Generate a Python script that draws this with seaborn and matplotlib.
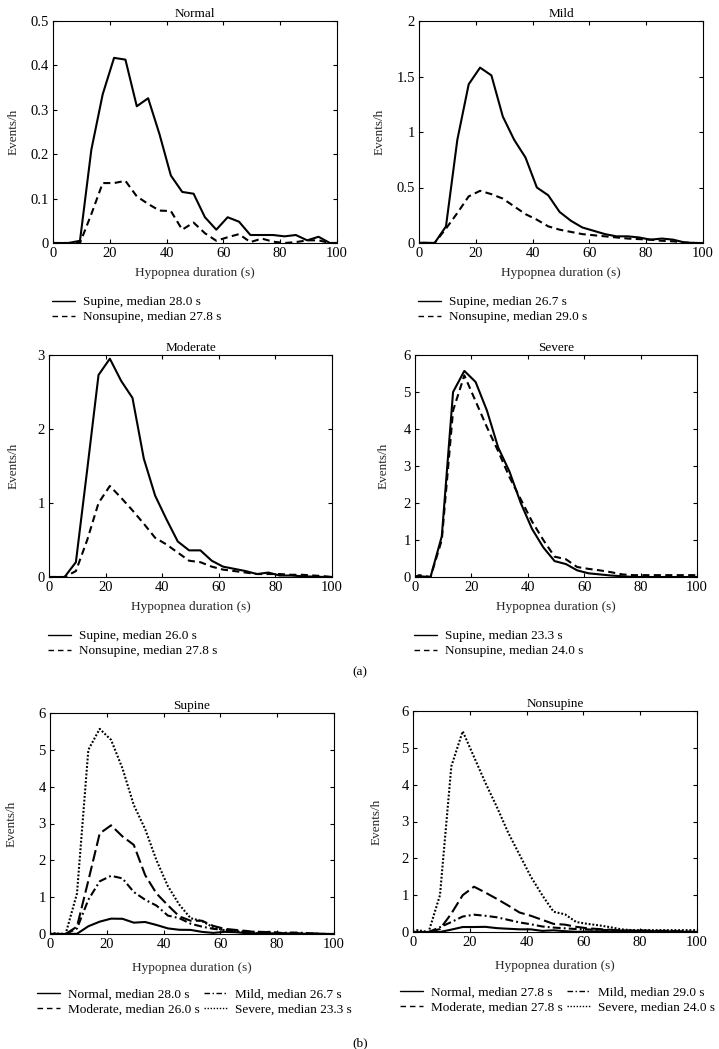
import matplotlib
matplotlib.use("Agg")
import matplotlib.pyplot as plt
import seaborn as sns
from matplotlib.lines import Line2D
from matplotlib.ticker import FuncFormatter, MultipleLocator

# ---------------- data ----------------
duration = [0, 1.5, 5.5, 9.5, 13.5, 17.5, 21.5, 25.5, 29.5, 33.5, 37.5, 41.5, 45.5,
            49.5, 53.5, 57.5, 61.5, 65.5, 69.5, 73.5, 77.5, 81.5, 85.5, 89.5, 93.5,
            97.5, 100]

normal_supine = [0, 0, 0, 0.005, 0.21, 0.335, 0.417, 0.413, 0.308, 0.326, 0.245, 0.152,
                 0.115, 0.111, 0.058, 0.03, 0.058, 0.048, 0.018, 0.018, 0.018, 0.015,
                 0.018, 0.006, 0.014, 0.0, 0]
normal_nonsupine = [0, 0, 0, 0.0, 0.065, 0.135, 0.135, 0.14, 0.105, 0.088, 0.073, 0.072,
                    0.03, 0.046, 0.022, 0.005, 0.013, 0.02, 0.002, 0.01, 0.003, 0.0,
                    0.002, 0.006, 0.006, 0.0, 0]
mild_supine = [0, 0.003, 0, 0.15, 0.93, 1.43, 1.58, 1.51, 1.14, 0.93, 0.77, 0.5, 0.43,
               0.28, 0.2, 0.14, 0.11, 0.08, 0.06, 0.06, 0.05, 0.03, 0.04, 0.03, 0.005,
               0.0, 0]
mild_nonsupine = [0, 0, 0, 0.13, 0.27, 0.42, 0.47, 0.44, 0.40, 0.33, 0.26, 0.21, 0.15,
                  0.12, 0.10, 0.08, 0.07, 0.06, 0.05, 0.04, 0.035, 0.03, 0.02, 0.015,
                  0.005, 0, 0]
moderate_supine = [0, 0, 0, 0.2, 1.45, 2.73, 2.95, 2.65, 2.42, 1.6, 1.1, 0.78, 0.48,
                   0.36, 0.36, 0.22, 0.14, 0.11, 0.08, 0.04, 0.06, 0.02, 0.02, 0.01,
                   0.005, 0, 0]
moderate_nonsupine = [0, 0, 0, 0.08, 0.5, 1.0, 1.23, 1.07, 0.9, 0.72, 0.53, 0.44, 0.33,
                      0.22, 0.2, 0.14, 0.1, 0.08, 0.06, 0.04, 0.04, 0.04, 0.03, 0.03,
                      0.02, 0.01, 0]
severe_supine = [0, 0.02, 0, 1.1, 5.0, 5.57, 5.27, 4.5, 3.5, 2.85, 2.0, 1.3, 0.8, 0.43,
                 0.35, 0.18, 0.1, 0.07, 0.04, 0.02, 0.0, 0, 0, 0, 0, 0, 0]
severe_nonsupine = [0, 0.05, 0, 1.0, 4.5, 5.45, 4.75, 4.05, 3.4, 2.7, 2.1, 1.5, 1.0, 0.55,
                    0.48, 0.27, 0.22, 0.18, 0.13, 0.07, 0.05, 0.05, 0.05, 0.05, 0.05,
                    0.05, 0.05]

groups = ["Normal", "Mild", "Moderate", "Severe"]
supine_medians = ["28.0", "26.7", "26.0", "23.3"]
nonsupine_medians = ["27.8", "29.0", "27.8", "24.0"]
y_max = [0.5, 2, 3, 6]
y_step = [0.1, 0.5, 1, 1]

supine = [normal_supine, mild_supine, moderate_supine, severe_supine]
nonsupine = [normal_nonsupine, mild_nonsupine, moderate_nonsupine, severe_nonsupine]

# ---------------- style ----------------
sns.set_style("ticks")
plt.rcParams["font.family"] = ["Liberation Serif", "DejaVu Serif"]
plt.rcParams["font.size"] = 9.5
plt.rcParams["axes.linewidth"] = 0.8
plt.rcParams["axes.edgecolor"] = "black"
plt.rcParams["text.color"] = "black"
plt.rcParams["xtick.color"] = "black"
plt.rcParams["ytick.color"] = "black"

FS = 9.5
TICK_FS = 10.5
LW = 1.5
ST_SOLID = "-"
ST_DASH = (0, (3.4, 2.1))
ST_LONG = (0, (5.6, 2.1))
ST_DASHDOT = (0, (3.8, 1.5, 0.9, 1.5))
ST_DOT = (0, (0.9, 0.9))
sev_styles = [ST_SOLID, ST_DASHDOT, ST_LONG, ST_DOT]

W, H = 719, 1049
fig = plt.figure(figsize=(W / 100, H / 100), dpi=100)


def add_ax(l, t, r, b):
    return fig.add_axes([l / W, 1 - b / H, (r - l) / W, (b - t) / H])


def style_ax(ax, title, ymax, ystep, ylab_off, xlab_off):
    w = ax.get_position().width * W
    h = ax.get_position().height * H
    ax.set_xlim(0, 100)
    ax.set_ylim(0, ymax)
    ax.xaxis.set_major_locator(MultipleLocator(20))
    ax.yaxis.set_major_locator(MultipleLocator(ystep))
    ax.yaxis.set_major_formatter(FuncFormatter(lambda v, p: f"{v:g}"))
    ax.tick_params(direction="in", top=True, right=True, length=3, width=0.8,
                   labelsize=TICK_FS, pad=3)
    ax.set_title(title, fontsize=FS, pad=3)
    ax.set_xlabel("Hypopnea duration (s)", fontsize=FS)
    ax.set_ylabel("Events/h", fontsize=FS)
    ax.yaxis.set_label_coords(ylab_off / w, 0.5)
    ax.xaxis.set_label_coords(0.5, -xlab_off / h)
    for s in ax.spines.values():
        s.set_visible(True)
        s.set_linewidth(0.8)


def fig_legend(handles, labels, left, top, ncol=1):
    fig.legend(handles, labels, loc="upper left",
               bbox_to_anchor=(left / W, 1 - top / H), bbox_transform=fig.transFigure,
               frameon=False, ncol=ncol, fontsize=FS, handlelength=1.75,
               handletextpad=0.6, labelspacing=0.22, columnspacing=0.3,
               borderpad=0, borderaxespad=0)


# ---------------- (a) ----------------
a_boxes = [(53, 21, 337, 243), (419, 21, 703, 243), (49, 355, 332, 577), (415, 355, 697, 577)]
a_ylab = [-33, -33, -29, -25]
for i, g in enumerate(groups):
    ax = add_ax(*a_boxes[i])
    sns.lineplot(x=duration, y=supine[i], ax=ax, color="black", lw=LW, linestyle=ST_SOLID)
    sns.lineplot(x=duration, y=nonsupine[i], ax=ax, color="black", lw=LW, linestyle=ST_DASH)
    style_ax(ax, g, y_max[i], y_step[i], a_ylab[i], 24)
    h = [Line2D([], [], color="black", lw=1.0, linestyle=ST_SOLID),
         Line2D([], [], color="black", lw=1.0, linestyle=(0, (4.0, 2.8)))]
    lab = [f"Supine, median {supine_medians[i]} s",
           f"Nonsupine, median {nonsupine_medians[i]} s"]
    l, t, r, b = a_boxes[i]
    fig_legend(h, lab, l - 1, b + 53)

fig.text(360 / W, 1 - 672 / H, "(a)", ha="center", va="center", fontsize=FS)

# ---------------- (b) ----------------
b_boxes = [(50, 713, 334, 934), (413, 711, 697, 932)]
b_titles = ["Supine", "Nonsupine"]
b_data = [supine, nonsupine]
b_meds = [supine_medians, nonsupine_medians]
b_ylab = [-32, -30]
leg_styles = [ST_SOLID, (0, (4.0, 1.8, 1.0, 1.8)), (0, (4.0, 2.8)), (0, (1.0, 1.2))]
for k in range(2):
    ax = add_ax(*b_boxes[k])
    for i in range(4):
        sns.lineplot(x=duration, y=b_data[k][i], ax=ax, color="black", lw=LW,
                     linestyle=sev_styles[i])
    style_ax(ax, b_titles[k], 6, 1, b_ylab[k], 28)
    handles = [Line2D([], [], color="black", lw=1.0, linestyle=leg_styles[i]) for i in range(4)]
    labels = [f"{groups[i]}, median {b_meds[k][i]} s" for i in range(4)]
    order = [0, 2, 1, 3]
    l, t, r, b = b_boxes[k]
    fig_legend([handles[j] for j in order], [labels[j] for j in order],
               l - 13, b + 54, ncol=2)

fig.text(360 / W, 1 - 1043 / H, "(b)", ha="center", va="center", fontsize=FS)

fig.savefig("out.png", dpi=100)
